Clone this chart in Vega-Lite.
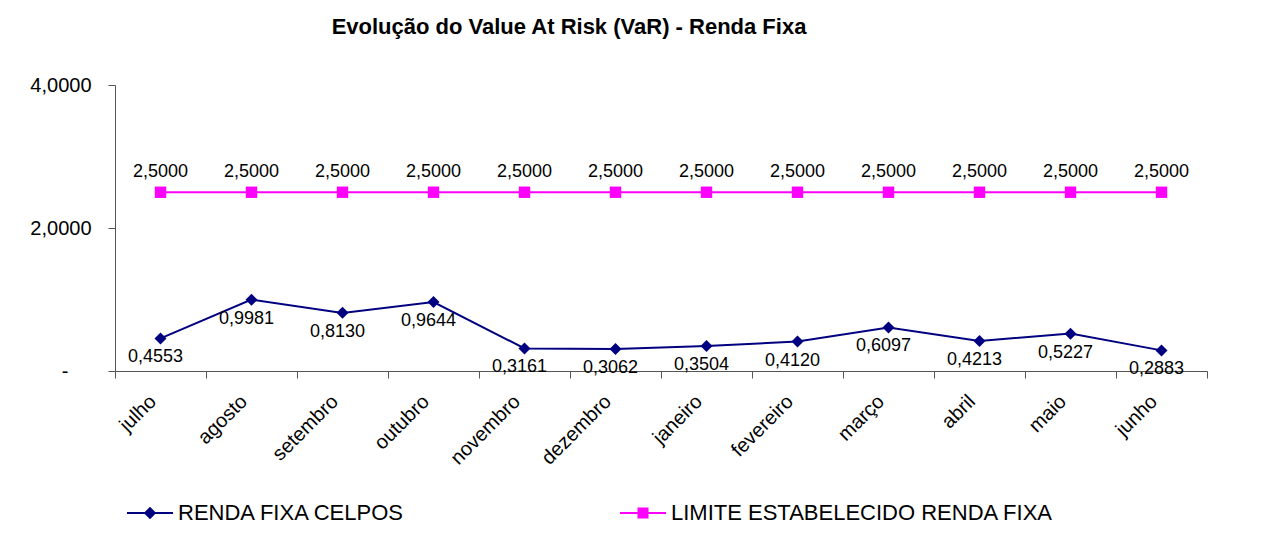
{
  "$schema": "https://vega.github.io/schema/vega-lite/v6.json",
  "autosize": "none",
  "width": 1092,
  "height": 286,
  "padding": {"left": 115, "top": 85, "right": 77, "bottom": 174},
  "background": "#ffffff",
  "config": {
    "locale": {"number": {"decimal": ",", "thousands": ".", "grouping": [3], "currency": ["R$", ""]}},
    "view": {"stroke": null},
    "font": "Liberation Sans"
  },
  "title": {
    "text": "Evolução do Value At Risk (VaR) - Renda Fixa",
    "font": "Liberation Sans",
    "fontSize": 22,
    "fontWeight": "bold",
    "color": "#000000",
    "anchor": "middle",
    "frame": "group",
    "dx": -92,
    "offset": 36
  },
  "data": {
    "values": [
      {"mes": "julho", "serie": "RENDA FIXA CELPOS", "valor": 0.4553},
      {"mes": "agosto", "serie": "RENDA FIXA CELPOS", "valor": 0.9981},
      {"mes": "setembro", "serie": "RENDA FIXA CELPOS", "valor": 0.8130},
      {"mes": "outubro", "serie": "RENDA FIXA CELPOS", "valor": 0.9644},
      {"mes": "novembro", "serie": "RENDA FIXA CELPOS", "valor": 0.3161},
      {"mes": "dezembro", "serie": "RENDA FIXA CELPOS", "valor": 0.3062},
      {"mes": "janeiro", "serie": "RENDA FIXA CELPOS", "valor": 0.3504},
      {"mes": "fevereiro", "serie": "RENDA FIXA CELPOS", "valor": 0.4120},
      {"mes": "março", "serie": "RENDA FIXA CELPOS", "valor": 0.6097},
      {"mes": "abril", "serie": "RENDA FIXA CELPOS", "valor": 0.4213},
      {"mes": "maio", "serie": "RENDA FIXA CELPOS", "valor": 0.5227},
      {"mes": "junho", "serie": "RENDA FIXA CELPOS", "valor": 0.2883},
      {"mes": "julho", "serie": "LIMITE ESTABELECIDO RENDA FIXA", "valor": 2.5},
      {"mes": "agosto", "serie": "LIMITE ESTABELECIDO RENDA FIXA", "valor": 2.5},
      {"mes": "setembro", "serie": "LIMITE ESTABELECIDO RENDA FIXA", "valor": 2.5},
      {"mes": "outubro", "serie": "LIMITE ESTABELECIDO RENDA FIXA", "valor": 2.5},
      {"mes": "novembro", "serie": "LIMITE ESTABELECIDO RENDA FIXA", "valor": 2.5},
      {"mes": "dezembro", "serie": "LIMITE ESTABELECIDO RENDA FIXA", "valor": 2.5},
      {"mes": "janeiro", "serie": "LIMITE ESTABELECIDO RENDA FIXA", "valor": 2.5},
      {"mes": "fevereiro", "serie": "LIMITE ESTABELECIDO RENDA FIXA", "valor": 2.5},
      {"mes": "março", "serie": "LIMITE ESTABELECIDO RENDA FIXA", "valor": 2.5},
      {"mes": "abril", "serie": "LIMITE ESTABELECIDO RENDA FIXA", "valor": 2.5},
      {"mes": "maio", "serie": "LIMITE ESTABELECIDO RENDA FIXA", "valor": 2.5},
      {"mes": "junho", "serie": "LIMITE ESTABELECIDO RENDA FIXA", "valor": 2.5}
    ]
  },
  "encoding": {
    "x": {
      "field": "mes",
      "type": "nominal",
      "sort": ["julho", "agosto", "setembro", "outubro", "novembro", "dezembro", "janeiro", "fevereiro", "março", "abril", "maio", "junho"],
      "scale": {"type": "band", "paddingInner": 0, "paddingOuter": 0},
      "axis": {
        "title": null,
        "labelAngle": -45,
        "labelFont": "Liberation Sans",
        "labelFontSize": 20,
        "labelColor": "#000000",
        "labelPadding": 13,
        "labelOffset": -15,
        "tickBand": "extent",
        "tickSize": 7,
        "tickColor": "#555555",
        "domainColor": "#555555",
        "grid": false
      }
    },
    "y": {
      "field": "valor",
      "type": "quantitative",
      "scale": {"domain": [0, 4], "nice": false},
      "axis": {
        "title": null,
        "values": [0, 2, 4],
        "format": ".4f",
        "labelExpr": "datum.value === 0 ? '-' : datum.label",
        "labelFont": "Liberation Sans",
        "labelFontSize": 20,
        "labelColor": "#000000",
        "labelPadding": {"condition": {"test": "datum.value === 0", "value": 40}, "value": 17},
        "tickSize": 7,
        "tickColor": "#555555",
        "domainColor": "#555555",
        "grid": false
      }
    }
  },
  "layer": [
    {
      "mark": {"type": "line", "strokeWidth": 2},
      "encoding": {
        "color": {
          "field": "serie",
          "type": "nominal",
          "scale": {"domain": ["RENDA FIXA CELPOS", "LIMITE ESTABELECIDO RENDA FIXA"], "range": ["#000080", "#FF00FF"]},
          "legend": {
            "orient": "none",
            "legendX": 12,
            "legendY": 405,
            "direction": "horizontal",
            "columns": 2,
            "columnPadding": 214,
            "title": null,
            "symbolSize": 2116,
            "symbolStrokeWidth": 0,
            "labelFont": "Liberation Sans",
            "labelFontSize": 22,
            "labelColor": "#000000",
            "labelOffset": 5,
            "labelLimit": 0,
            "encode": {
              "symbols": {
                "update": {
                  "shape": {"signal": "datum.value === 'RENDA FIXA CELPOS' ? 'M-1,-0.045H1V0.045H-1Z M0,-0.27L0.27,0L0,0.27L-0.27,0Z' : 'M-1,-0.045H1V0.045H-1Z M-0.24,-0.24H0.24V0.24H-0.24Z'"},
                  "fill": {"scale": "color", "field": "value"},
                  "stroke": {"value": "transparent"},
                  "opacity": {"value": 1},
                  "strokeWidth": {"value": 0}
                }
              }
            }
          }
        }
      }
    },
    {
      "transform": [{"filter": "datum.serie === 'RENDA FIXA CELPOS'"}],
      "mark": {"type": "point", "shape": "diamond", "filled": true, "opacity": 1, "size": 144, "color": "#000080"}
    },
    {
      "transform": [{"filter": "datum.serie === 'LIMITE ESTABELECIDO RENDA FIXA'"}],
      "mark": {"type": "point", "shape": "square", "filled": true, "opacity": 1, "size": 130, "color": "#FF00FF"}
    },
    {
      "transform": [{"filter": "datum.serie === 'RENDA FIXA CELPOS'"}],
      "mark": {"type": "text", "dy": 19, "dx": -5, "font": "Liberation Sans", "fontSize": 18, "color": "#000000", "baseline": "middle"},
      "encoding": {"text": {"field": "valor", "type": "quantitative", "format": ".4f"}}
    },
    {
      "transform": [{"filter": "datum.serie === 'LIMITE ESTABELECIDO RENDA FIXA'"}],
      "mark": {"type": "text", "dy": -20, "font": "Liberation Sans", "fontSize": 18, "color": "#000000", "baseline": "middle"},
      "encoding": {"text": {"field": "valor", "type": "quantitative", "format": ".4f"}}
    }
  ]
}
